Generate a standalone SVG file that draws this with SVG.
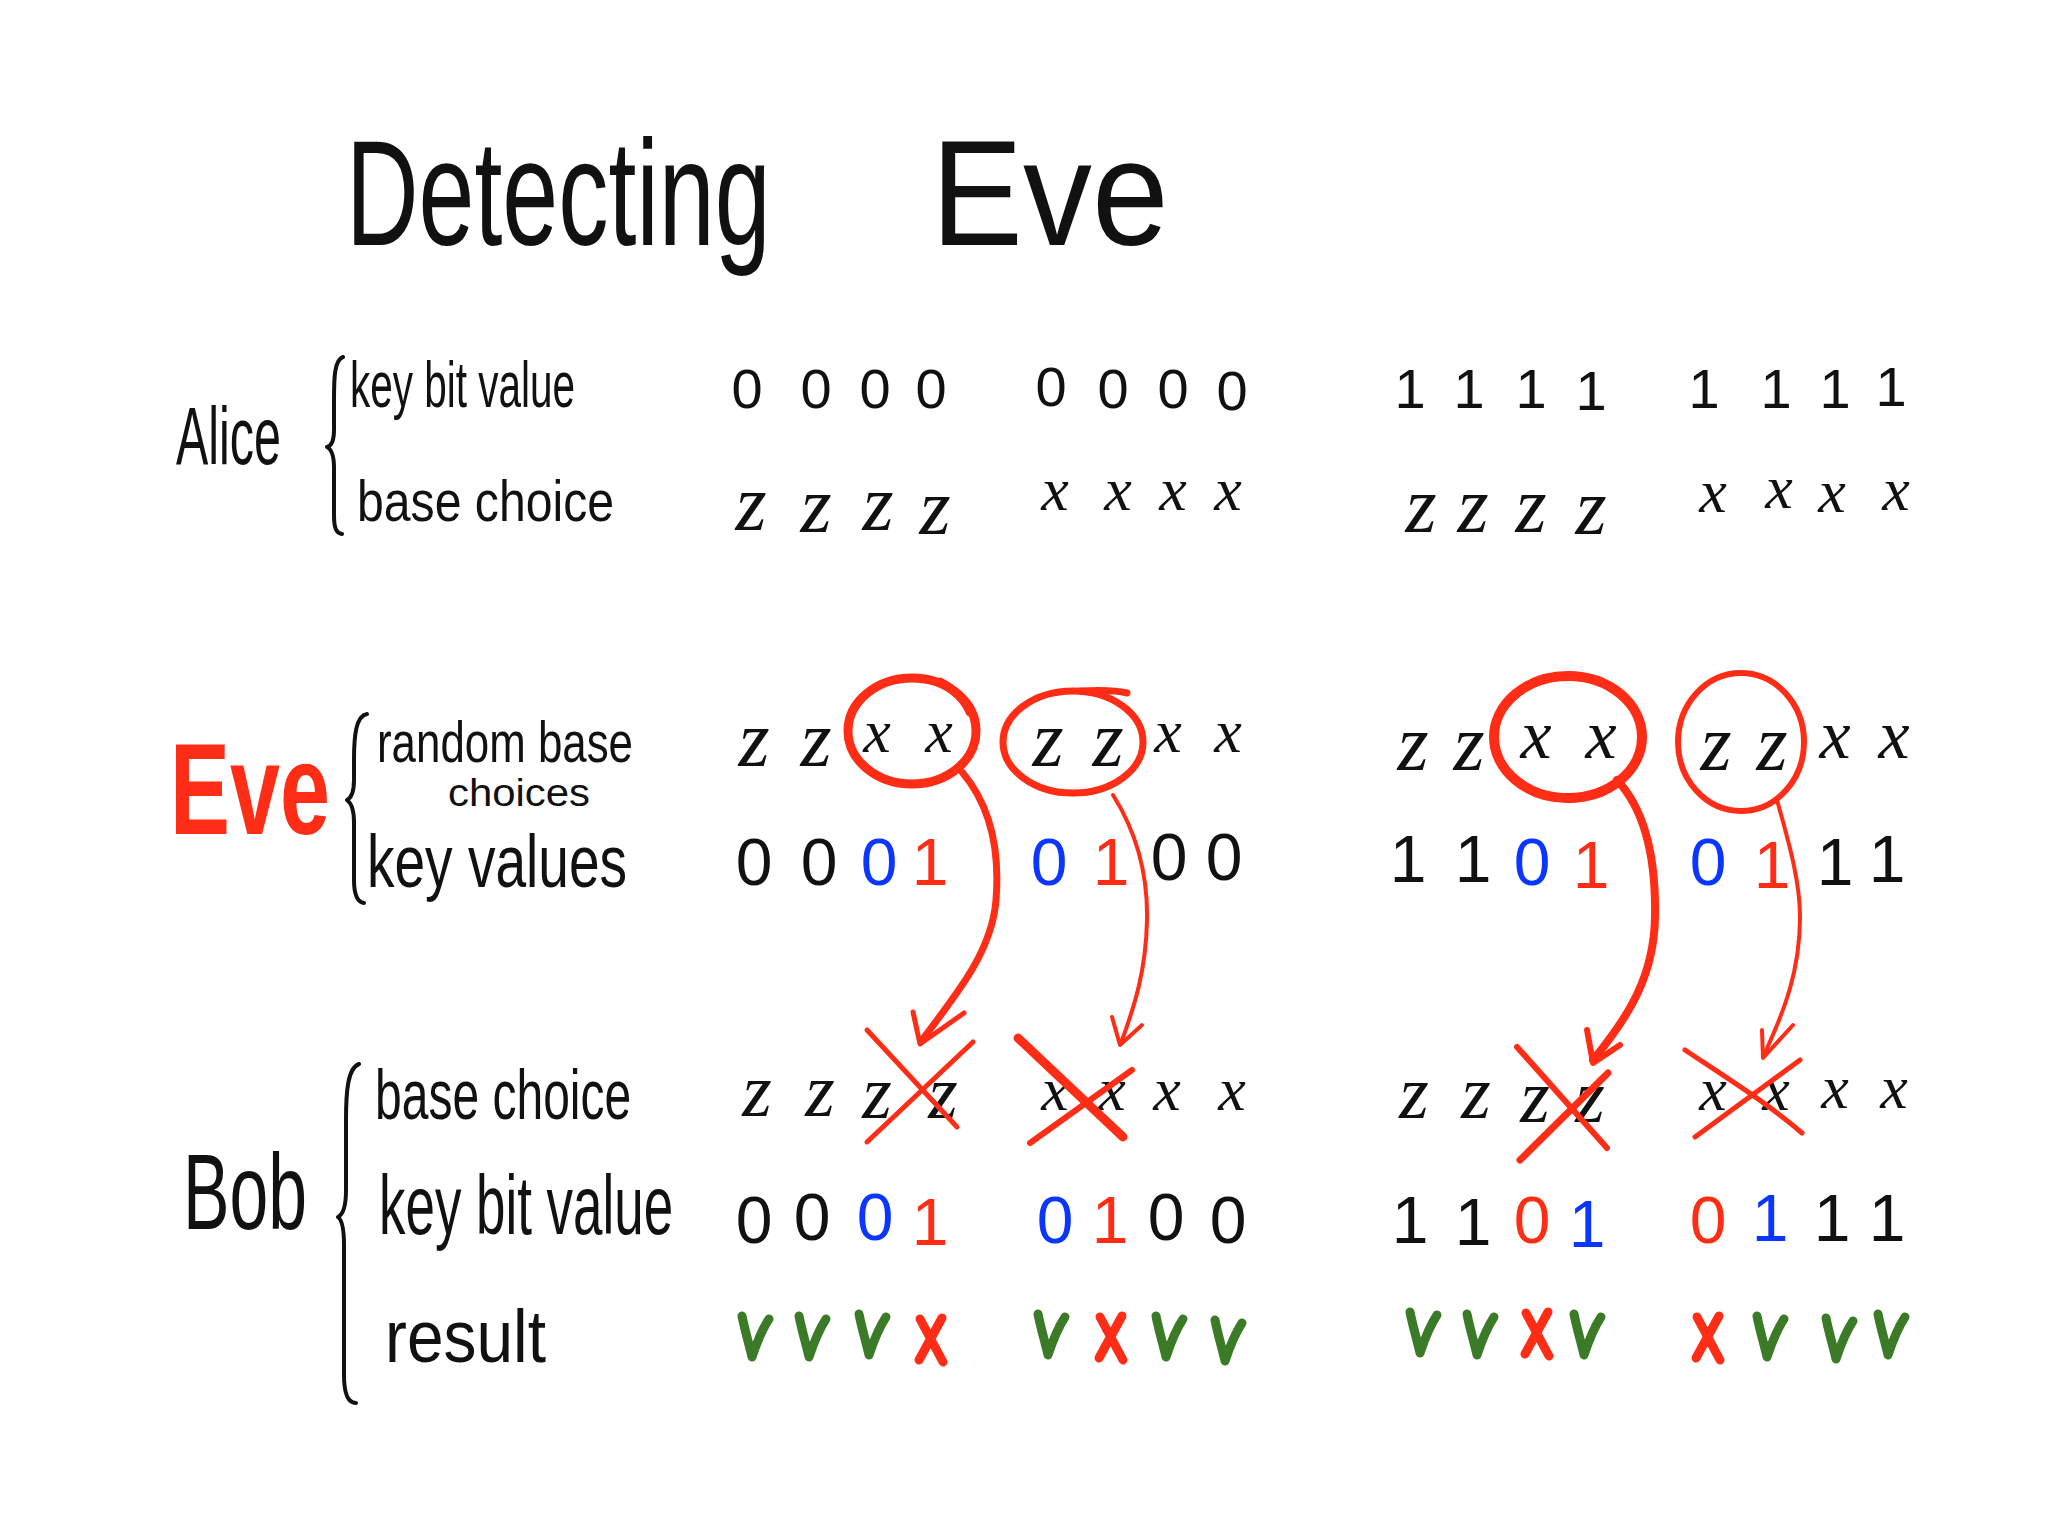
<svg xmlns="http://www.w3.org/2000/svg" xmlns:xlink="http://www.w3.org/1999/xlink" width="2048" height="1536" viewBox="0 0 2048 1536">
<style>
.hw{font-family:"Liberation Sans","DejaVu Sans",sans-serif;fill:#111;}
.dg{font-family:"Liberation Sans","DejaVu Sans",sans-serif;text-anchor:middle;}
.bs{font-family:"Liberation Serif","DejaVu Serif",serif;font-style:italic;text-anchor:middle;fill:#111;}
.k{fill:#111}.r{fill:#ff2d16}.b{fill:#0a36ff}
.ink{fill:none;stroke:#111;stroke-width:4;stroke-linecap:round;stroke-linejoin:round;}
.rs{fill:none;stroke:#ff2d16;stroke-linecap:round;stroke-linejoin:round;}
.ok{fill:none;stroke:#3b7a27;stroke-width:9;stroke-linecap:round;stroke-linejoin:round;}
.no{fill:none;stroke:#ff2d16;stroke-width:9;stroke-linecap:round;}
</style>
<defs>
<path id="chk" d="M -13 -20 C -10 -5 -6 8 -3 21 C 2 6 8 -8 14 -17"/>
<path id="xx" d="M -11 -21 L 12 22 M 11 -22 L -12 20"/>
</defs>
<rect width="2048" height="1536" fill="#fff"/>

<g id="title">
<text class="hw" transform="translate(346 245) scale(0.67 1)" font-size="150">Detecting</text>
<text class="hw" transform="translate(931 245) scale(0.92 1)" font-size="150">Eve</text>
</g>

<g id="alice">
<text class="hw" x="176" y="464" font-size="82" textLength="105" lengthAdjust="spacingAndGlyphs">Alice</text>
<path class="ink" d="M 343 357 C 334 360 334 380 334 400 L 334 430 C 334 441 331 446 327 447 C 331 449 334 455 334 468 L 334 515 C 334 528 336 533 342 534"/>
<text class="hw" x="350" y="407" font-size="64" textLength="225" lengthAdjust="spacingAndGlyphs">key bit value</text>
<text class="hw" x="357" y="521" font-size="58" textLength="257" lengthAdjust="spacingAndGlyphs">base choice</text>
<g class="dg k" font-size="56">
<text x="747" y="408">0</text><text x="816" y="408">0</text><text x="875" y="408">0</text><text x="931" y="408">0</text>
<text x="1051" y="406">0</text><text x="1113" y="408">0</text><text x="1173" y="408">0</text><text x="1232" y="410">0</text>
<text x="1410" y="408">1</text><text x="1469" y="408">1</text><text x="1531" y="408">1</text><text x="1591" y="410">1</text>
<text x="1704" y="408">1</text><text x="1776" y="408">1</text><text x="1835" y="408">1</text><text x="1891" y="406">1</text>
</g>
<g font-size="80">
<text class="bs" x="751" y="530">z</text><text class="bs" x="816" y="532">z</text><text class="bs" x="878" y="530">z</text><text class="bs" x="935" y="534">z</text>
<text class="bs" x="1421" y="532">z</text><text class="bs" x="1473" y="532">z</text><text class="bs" x="1531" y="532">z</text><text class="bs" x="1591" y="534">z</text>
</g>
<g font-size="62">
<text class="bs" x="1055" y="510">x</text><text class="bs" x="1118" y="510">x</text><text class="bs" x="1173" y="510">x</text><text class="bs" x="1228" y="510">x</text>
<text class="bs" x="1713" y="512">x</text><text class="bs" x="1779" y="508">x</text><text class="bs" x="1832" y="512">x</text><text class="bs" x="1896" y="510">x</text>
</g>
</g>

<g id="eve">
<text class="hw" x="170" y="834" font-size="130" font-weight="bold" style="fill:#ff2d16" textLength="160" lengthAdjust="spacingAndGlyphs">Eve</text>
<path class="ink" d="M 367 714 C 356 716 354 735 354 760 L 354 780 C 354 792 351 798 347 800 C 351 803 354 810 354 822 L 354 880 C 354 895 357 902 364 903"/>
<text class="hw" x="377" y="762" font-size="58" textLength="256" lengthAdjust="spacingAndGlyphs">random base</text>
<text class="hw" x="448" y="806" font-size="38" textLength="142" lengthAdjust="spacingAndGlyphs">choices</text>
<text class="hw" x="367" y="887" font-size="74" textLength="260" lengthAdjust="spacingAndGlyphs">key values</text>
<g font-size="80">
<text class="bs" x="754" y="766">z</text><text class="bs" x="816" y="766">z</text>
<text class="bs" x="1048" y="766">z</text><text class="bs" x="1108" y="766">z</text>
<text class="bs" x="1413" y="770">z</text><text class="bs" x="1469" y="770">z</text>
<text class="bs" x="1716" y="770">z</text><text class="bs" x="1772" y="770">z</text>
</g>
<g font-size="62">
<text class="bs" x="877" y="752">x</text><text class="bs" x="939" y="752">x</text>
<text class="bs" x="1168" y="752">x</text><text class="bs" x="1228" y="752">x</text>
</g>
<g font-size="70">
<text class="bs" x="1536" y="758">x</text><text class="bs" x="1601" y="758">x</text>
<text class="bs" x="1835" y="758">x</text><text class="bs" x="1894" y="758">x</text>
</g>
<g class="dg" font-size="66">
<text class="k" x="754" y="885">0</text><text class="k" x="819" y="885">0</text><text class="b" x="879" y="885">0</text><text class="r" x="930" y="885">1</text>
<text class="b" x="1049" y="885">0</text><text class="r" x="1111" y="885">1</text><text class="k" x="1169" y="880">0</text><text class="k" x="1224" y="880">0</text>
<text class="k" x="1408" y="882">1</text><text class="k" x="1473" y="882">1</text><text class="b" x="1532" y="885">0</text><text class="r" x="1591" y="888">1</text>
<text class="b" x="1708" y="885">0</text><text class="r" x="1772" y="888">1</text><text class="k" x="1835" y="885">1</text><text class="k" x="1887" y="882">1</text>
</g>
<g id="eve-circles">
<ellipse class="rs" stroke-width="9" cx="912" cy="731" rx="64" ry="53"/>
<path class="rs" stroke-width="9" d="M 940 682 C 955 690 965 700 970 712"/>
<ellipse class="rs" stroke-width="7" cx="1073" cy="742" rx="70" ry="51"/>
<path class="rs" stroke-width="7" d="M 1080 691 C 1100 690 1115 690 1127 693"/>
<ellipse class="rs" stroke-width="10" cx="1568" cy="737" rx="74" ry="61"/>
<ellipse class="rs" stroke-width="6" cx="1741" cy="742" rx="63" ry="69"/>
</g>
</g>

<g id="bob">
<text class="hw" x="183" y="1229" font-size="108" textLength="124" lengthAdjust="spacingAndGlyphs">Bob</text>
<path class="ink" d="M 359 1064 C 348 1068 346 1090 346 1120 L 346 1190 C 346 1208 342 1215 338 1217 C 342 1220 344 1228 344 1245 L 344 1375 C 344 1395 348 1403 356 1403"/>
<text class="hw" transform="translate(375 1119) scale(0.686 1)" font-size="70">base choice</text>
<text class="hw" transform="translate(379 1234) scale(0.63 1)" font-size="84">key bit value</text>
<text class="hw" x="385" y="1362" font-size="74" textLength="161" lengthAdjust="spacingAndGlyphs">result</text>
<g font-size="76">
<text class="bs" x="757" y="1116">z</text><text class="bs" x="820" y="1116">z</text><text class="bs" x="877" y="1118">z</text><text class="bs" x="943" y="1118">z</text>
<text class="bs" x="1414" y="1118">z</text><text class="bs" x="1476" y="1118">z</text><text class="bs" x="1535" y="1122">z</text><text class="bs" x="1590" y="1122">z</text>
</g>
<g font-size="62">
<text class="bs" x="1055" y="1110">x</text><text class="bs" x="1112" y="1110">x</text><text class="bs" x="1167" y="1110">x</text><text class="bs" x="1232" y="1110">x</text>
<text class="bs" x="1713" y="1110">x</text><text class="bs" x="1776" y="1110">x</text><text class="bs" x="1835" y="1108">x</text><text class="bs" x="1894" y="1108">x</text>
</g>
<g class="dg" font-size="66">
<text class="k" x="754" y="1243">0</text><text class="k" x="812" y="1240">0</text><text class="b" x="875" y="1240">0</text><text class="r" x="930" y="1245">1</text>
<text class="b" x="1055" y="1243">0</text><text class="r" x="1110" y="1243">1</text><text class="k" x="1166" y="1240">0</text><text class="k" x="1228" y="1243">0</text>
<text class="k" x="1410" y="1243">1</text><text class="k" x="1473" y="1245">1</text><text class="r" x="1532" y="1243">0</text><text class="b" x="1587" y="1247">1</text>
<text class="r" x="1708" y="1243">0</text><text class="b" x="1770" y="1241">1</text><text class="k" x="1832" y="1241">1</text><text class="k" x="1887" y="1241">1</text>
</g>
<g id="bob-crosses" class="rs">
<path stroke-width="5" d="M 867 1030 L 957 1127 M 867 1142 L 973 1042"/>
<path stroke-width="9" d="M 1018 1038 L 1123 1137"/>
<path stroke-width="6" d="M 1030 1143 L 1132 1070"/>
<path stroke-width="6" d="M 1517 1047 L 1607 1148"/>
<path stroke-width="7" d="M 1520 1160 L 1608 1073"/>
<path stroke-width="5" d="M 1685 1050 C 1730 1080 1770 1105 1802 1133 M 1695 1137 L 1800 1060"/>
</g>
<g id="results">
<use href="#chk" class="ok" x="755" y="1336"/>
<use href="#chk" class="ok" x="812" y="1336"/>
<use href="#chk" class="ok" x="872" y="1334"/>
<use href="#xx" class="no" x="931" y="1340"/>
<use href="#chk" class="ok" x="1051" y="1334"/>
<use href="#xx" class="no" x="1111" y="1338"/>
<use href="#chk" class="ok" x="1169" y="1336"/>
<use href="#chk" class="ok" x="1228" y="1340"/>
<use href="#chk" class="ok" x="1423" y="1332"/>
<use href="#chk" class="ok" x="1480" y="1334"/>
<use href="#xx" class="no" x="1537" y="1334"/>
<use href="#chk" class="ok" x="1587" y="1334"/>
<use href="#xx" class="no" x="1708" y="1338"/>
<use href="#chk" class="ok" x="1770" y="1336"/>
<use href="#chk" class="ok" x="1839" y="1338"/>
<use href="#chk" class="ok" x="1891" y="1334"/>
</g>
</g>

<g id="connectors" class="rs">
<path stroke-width="7" d="M 962 772 C 990 805 1000 850 996 900 C 992 950 960 990 922 1040"/>
<path stroke-width="5" d="M 913 1012 L 920 1044 L 964 1013"/>
<path stroke-width="4" d="M 1113 795 C 1135 830 1148 870 1147 920 C 1146 970 1135 1005 1121 1043"/>
<path stroke-width="4" d="M 1112 1017 L 1120 1045 L 1142 1025"/>
<path stroke-width="8" d="M 1617 780 C 1645 810 1656 860 1655 917 C 1654 975 1630 1015 1593 1060"/>
<path stroke-width="6" d="M 1587 1030 L 1593 1063 L 1620 1045"/>
<path stroke-width="4" d="M 1777 800 C 1788 840 1800 880 1800 917 C 1800 970 1785 1010 1763 1057"/>
<path stroke-width="4" d="M 1762 1030 L 1763 1058 L 1793 1025"/>
</g>
</svg>
